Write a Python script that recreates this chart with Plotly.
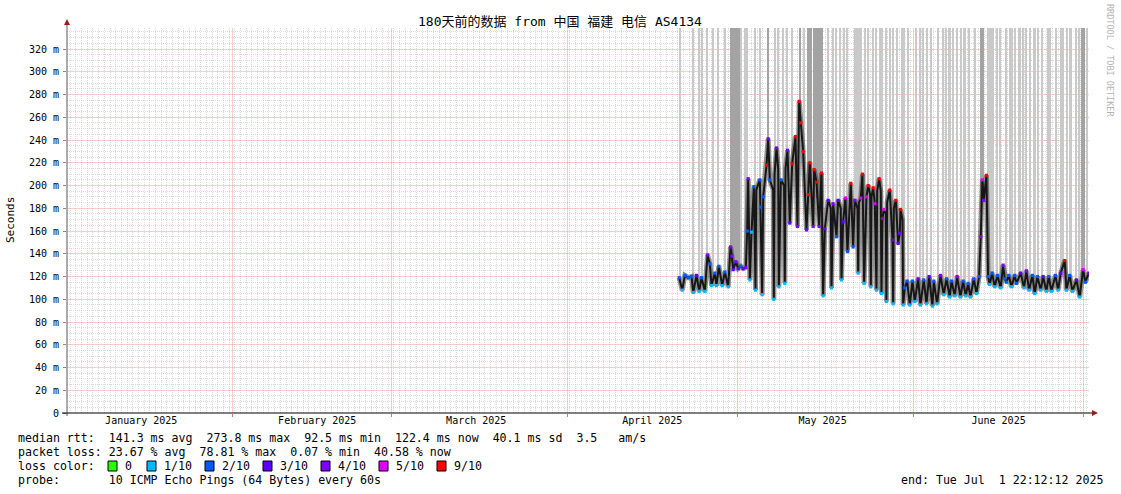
import numpy as np
import pandas as pd
import plotly.graph_objects as go

# ---------------- data ----------------
START = pd.Timestamp("2025-01-02 22:12:12")
END = pd.Timestamp("2025-07-01 22:12:12")
EPOCH = pd.Timestamp("2025-04-20 00:00:00")

month_label_dates = ["2025-01-16", "2025-02-16", "2025-03-16", "2025-04-16", "2025-05-16", "2025-06-16"]
month_labels = ["January 2025", "February 2025", "March 2025", "April 2025", "May 2025", "June 2025"]

# median RTT key points (days after 2025-04-20 00:00, ms, lost pings out of 10)
median_day = [0.75, 1.28, 1.75, 2.34, 2.92, 3.22, 3.80, 4.27, 4.68, 5.27,
              5.74, 6.15, 6.44, 7.03, 7.32, 7.73, 8.32, 8.79, 9.38, 9.79,
              10.02, 10.26, 10.73, 11.14, 11.61, 12.02, 12.49, 12.72, 12.90, 13.19,
              13.49, 13.90, 14.19, 14.95, 15.07, 15.36, 15.54, 16.13, 16.42, 16.71,
              17.42, 17.89, 18.30, 18.65, 19.35, 19.82, 20.23, 20.65, 21.23, 21.58,
              21.88, 22.17, 22.58, 23.17, 23.46, 23.75, 24.34, 24.52, 24.93, 25.40,
              25.81, 26.10, 26.40, 26.98, 27.57, 27.86, 28.45, 28.74, 29.33, 29.62,
              30.03, 30.39, 30.97, 31.38, 31.68, 32.27, 32.73, 33.03, 33.32, 33.73,
              34.03, 34.50, 34.91, 35.20, 35.49, 35.96, 36.37, 36.55, 36.78, 37.25,
              37.84, 38.31, 38.43, 38.90, 39.31, 39.60, 39.72, 40.19, 40.48, 40.89,
              41.36, 41.83, 42.24, 42.83, 43.24, 43.83, 44.30, 44.77, 45.35, 45.59,
              46.17, 46.76, 47.35, 47.82, 48.40, 48.70, 49.28, 49.69, 50.28, 50.75,
              51.22, 51.63, 52.04, 52.63, 53.10, 53.57, 53.86, 54.15, 54.39, 54.86,
              55.15, 55.44, 55.86, 56.33, 56.80, 57.38, 57.79, 58.09, 58.38, 58.79,
              59.26, 59.85, 60.14, 60.90, 61.49, 61.90, 62.37, 62.96, 63.37, 63.84,
              64.43, 64.84, 65.42, 65.83, 66.30, 67.01, 67.48, 67.95, 68.65, 68.94,
              69.53, 70.00, 70.70, 71.29, 71.88, 72.29, 72.88]
median_ms = [119, 108, 121, 119, 120, 106, 121, 107, 119, 107,
             139, 131, 112, 123, 112, 129, 112, 124, 111, 146,
             138, 126, 133, 127, 129, 127, 128, 160, 206, 117,
             159, 199, 108, 205, 181, 104, 190, 218, 241, 205,
             100, 233, 111, 205, 114, 231, 167, 219, 243, 164,
             274, 255, 230, 161, 192, 220, 164, 214, 203, 164,
             211, 103, 162, 187, 110, 184, 155, 187, 117, 168,
             189, 142, 202, 146, 187, 123, 189, 210, 114, 190,
             200, 111, 198, 184, 108, 206, 105, 171, 179, 98,
             196, 152, 96, 187, 149, 158, 179, 95, 110, 116,
             95, 116, 98, 118, 95, 117, 96, 120, 94, 116,
             96, 121, 104, 118, 102, 116, 103, 120, 102, 116,
             103, 114, 102, 118, 105, 120, 155, 205, 187, 209,
             120, 113, 123, 111, 121, 110, 130, 118, 115, 121,
             111, 121, 114, 123, 110, 125, 108, 121, 105, 120,
             108, 120, 107, 120, 107, 121, 108, 123, 134, 108,
             121, 107, 117, 102, 126, 115, 123]
median_loss = [2, 1, 2, 2, 2, 1, 3, 1, 2, 1,
               4, 2, 1, 2, 1, 2, 1, 2, 1, 4,
               4, 3, 4, 3, 2, 3, 4, 2, 4, 1,
               1, 2, 1, 2, 2, 1, 2, 9, 3, 2,
               1, 4, 1, 2, 1, 4, 3, 9, 9, 4,
               9, 9, 9, 4, 9, 9, 4, 9, 9, 4,
               9, 1, 3, 3, 1, 4, 2, 3, 1, 3,
               5, 2, 9, 2, 4, 1, 5, 9, 1, 5,
               9, 1, 9, 5, 1, 9, 1, 4, 5, 1,
               9, 3, 1, 9, 3, 4, 9, 1, 2, 2,
               1, 2, 1, 3, 1, 2, 1, 3, 1, 2,
               1, 4, 1, 2, 1, 2, 1, 4, 1, 2,
               1, 2, 1, 2, 1, 2, 4, 5, 4, 9,
               2, 1, 2, 1, 2, 1, 4, 2, 2, 2,
               1, 2, 2, 3, 1, 4, 1, 2, 1, 2,
               1, 3, 1, 2, 1, 2, 1, 3, 9, 1,
               2, 1, 3, 1, 5, 2, 4]

# extra plateau readings around the sharp nightly dips (no loss marker shown)
plateau_day = [14.32, 17.30, 17.55, 18.18, 19.22, 19.48, 27.45, 29.20, 32.15, 32.40,
               34.38, 34.62, 35.62, 36.25, 37.13, 37.37, 38.55, 40.07]
plateau_ms = [196, 196, 210, 215, 200, 215, 180, 180, 180, 185,
              192, 190, 195, 195, 175, 185, 180, 170]

# time of loss spikes (days after 2025-04-20 00:00), drawn as tall smoke bars
loss_spike_day = [0.87, 3.22, 4.27, 4.86, 5.74, 6.74, 7.62, 8.79, 11.73, 12.31,
                  12.72, 14.07, 14.95, 17.60, 18.18, 19.06, 19.82, 20.70, 22.70, 26.98,
                  27.86, 28.45, 29.04, 29.80, 30.39, 31.80, 32.15, 32.50, 32.85, 33.44,
                  34.03, 34.91, 35.38, 36.08, 36.55, 37.25, 37.84, 38.43, 39.19, 40.07,
                  40.42, 41.07, 42.42, 43.24, 43.71, 44.47, 45.18, 46.35, 47.23, 47.70,
                  48.40, 48.99, 49.75, 50.46, 51.04, 51.81, 52.81, 55.15, 55.62, 56.03,
                  56.74, 57.32, 58.38, 58.97, 59.44, 59.85, 60.73, 61.31, 61.90, 62.66,
                  63.37, 63.96, 64.72, 65.71, 66.13, 67.18, 68.06, 68.36, 69.06, 69.71,
                  70.70, 71.17, 72.64]
heavy_spike_day = [9.85, 10.14, 10.43, 10.73, 11.02, 11.26, 16.42, 21.99, 23.40, 23.70,
                   23.99, 24.52, 24.81, 25.10, 25.40, 25.69, 25.98, 53.98, 54.33, 71.76,
                   72.11]

y_tick_vals = [0, 20, 40, 60, 80, 100, 120, 140, 160, 180, 200, 220, 240, 260, 280, 300, 320]
y_tick_text = ["0", "20 m", "40 m", "60 m", "80 m", "100 m", "120 m", "140 m", "160 m",
               "180 m", "200 m", "220 m", "240 m", "260 m", "280 m", "300 m", "320 m"]

loss_labels = ["0", "1/10", "2/10", "3/10", "4/10", "5/10", "9/10"]
loss_colors = ["#26ff00", "#00b8ff", "#0059ff", "#5e00ff", "#7e00ff", "#dd00ff", "#ff0000"]
loss_levels = [0, 1, 2, 3, 4, 5, 9]

title_text = "180天前的数据 from 中国 福建 电信 AS4134"
stat_lines = [
    "median rtt:  141.3 ms avg  273.8 ms max  92.5 ms min  122.4 ms now  40.1 ms sd  3.5   am/s",
    "packet loss: 23.67 % avg  78.81 % max  0.07 % min  40.58 % now",
    "loss color:",
    "probe:       10 ICMP Echo Pings (64 Bytes) every 60s",
]
end_text = "end: Tue Jul  1 22:12:12 2025"

# ---------------- build ----------------
DAY_MS = 86400000
color_of = dict(zip(loss_levels, loss_colors))
med_colors = [color_of[c] for c in median_loss]
t_med = EPOCH + pd.to_timedelta(median_day, unit="D")

line_df = pd.DataFrame({"day": median_day + plateau_day,
                        "ms": median_ms + plateau_ms}).sort_values("day")
t_line = EPOCH + pd.to_timedelta(line_df["day"].to_numpy(), unit="D")
v_line = line_df["ms"].to_numpy()

YTOP = 338.5


def spike_trace(days, color):
    days = np.array(days)
    base = np.interp(days, line_df["day"].to_numpy(), v_line)
    t = EPOCH + pd.to_timedelta(days, unit="D")
    return go.Bar(x=t, y=YTOP + 5 - base, base=base, width=0.27 * DAY_MS,
                  marker=dict(color=color, line=dict(width=0)), hoverinfo="skip")


fig = go.Figure()
fig.add_trace(spike_trace(loss_spike_day, "#c9c9c9"))
fig.add_trace(spike_trace(heavy_spike_day, "#a3a3a3"))
fig.add_trace(go.Scatter(x=t_line, y=v_line, mode="lines",
                         line=dict(color="rgba(60,60,60,0.55)", width=5), hoverinfo="skip"))
fig.add_trace(go.Scatter(x=t_line, y=v_line, mode="lines",
                         line=dict(color="#161616", width=2), hoverinfo="skip"))
fig.add_trace(go.Scatter(x=t_med, y=median_ms, mode="markers",
                         marker=dict(symbol="square", size=3.2, color=med_colors, line=dict(width=0)),
                         hoverinfo="skip"))

PL, PR, PT, PB = 67, 1089, 28, 413


def px(x):
    return (x - PL) / (PR - PL)


def py(y):
    return (PB - y) / (PB - PT)


MONO = "DejaVu Sans Mono"
NB = "\u00a0"

annotations = []
annotations.append(dict(text=title_text, x=px(560), y=py(21), xref="paper", yref="paper",
                        showarrow=False, xanchor="center", yanchor="middle",
                        font=dict(family=MONO + ", Noto Sans CJK SC", size=13, color="#000")))
annotations.append(dict(text="Seconds", x=px(10), y=py(220), xref="paper", yref="paper",
                        showarrow=False, xanchor="center", yanchor="middle", textangle=-90,
                        font=dict(family=MONO, size=11, color="#000")))
annotations.append(dict(text="RRDTOOL / TOBI OETIKER", x=px(1110), y=py(60), xref="paper",
                        yref="paper", showarrow=False, xanchor="center", yanchor="middle",
                        textangle=90, font=dict(family=MONO, size=8.5, color="#b4b4b4")))
line_y = [438, 452, 466, 480]
for txt, yy in zip(stat_lines, line_y):
    annotations.append(dict(text=txt.replace(" ", NB), x=px(16), y=py(yy), xref="paper",
                            yref="paper", showarrow=False, xanchor="left", yanchor="middle",
                            font=dict(family=MONO, size=11.6, color="#000")))
annotations.append(dict(text=end_text.replace(" ", NB), x=px(1105), y=py(480), xref="paper",
                        yref="paper", showarrow=False, xanchor="right", yanchor="middle",
                        font=dict(family=MONO, size=11.6, color="#000")))

shapes = []
sq_x = [108, 147, 205, 263, 321, 379, 437]
for sx, lab, col in zip(sq_x, loss_labels, loss_colors):
    shapes.append(dict(type="rect", xref="paper", yref="paper", x0=px(sx), x1=px(sx + 9),
                       y0=py(471), y1=py(461), fillcolor=col, line=dict(color="#000", width=1)))
    annotations.append(dict(text=lab, x=px(sx + 15), y=py(466), xref="paper", yref="paper",
                            showarrow=False, xanchor="left", yanchor="middle",
                            font=dict(family=MONO, size=11.6, color="#000")))

# axes with arrows
shapes.append(dict(type="line", xref="paper", yref="paper", x0=px(67), x1=px(67),
                   y0=py(416), y1=py(24), line=dict(color="#5a5a5a", width=1)))
shapes.append(dict(type="line", xref="paper", yref="paper", x0=px(62), x1=px(1093),
                   y0=py(413), y1=py(413), line=dict(color="#000", width=1)))
shapes.append(dict(type="path", xref="paper", yref="paper",
                   path=f"M {px(64)} {py(25)} L {px(70)} {py(25)} L {px(67)} {py(19)} Z",
                   fillcolor="#9c1c1c", line=dict(width=0)))
shapes.append(dict(type="path", xref="paper", yref="paper",
                   path=f"M {px(1092)} {py(410)} L {px(1092)} {py(416)} L {px(1098)} {py(413)} Z",
                   fillcolor="#9c1c1c", line=dict(width=0)))

MAJOR = "rgba(240,120,120,0.38)"
MINOR = "rgba(200,200,200,0.65)"
y_minor_vals = [v for v in range(5, 340, 5) if v % 20 != 0]
fig.update_layout(
    width=1121, height=494,
    margin=dict(l=PL, r=1121 - PR, t=PT, b=494 - PB, pad=0),
    paper_bgcolor="#ffffff", plot_bgcolor="#ffffff",
    showlegend=False, barmode="overlay", bargap=0,
    font=dict(family=MONO, size=10, color="#000"),
    annotations=annotations, shapes=shapes,
    xaxis=dict(type="date", range=[START, END], tickmode="array",
               tickvals=pd.to_datetime(month_label_dates), ticktext=month_labels,
               showgrid=False, ticks="",
               minor=dict(dtick=DAY_MS, tick0="2025-01-01 12:00", showgrid=True,
                          gridcolor=MINOR, griddash="1px,1px", gridwidth=1),
               showline=False, zeroline=False, tickfont=dict(family=MONO, size=10, color="#000"),
               fixedrange=True),
    xaxis2=dict(type="date", range=[START, END], overlaying="x", matches="x", side="bottom",
                dtick="M1", tick0="2025-01-01", showticklabels=False,
                showgrid=True, gridcolor=MAJOR, gridwidth=1,
                ticks="outside", ticklen=3, tickcolor="rgba(235,100,100,0.9)",
                showline=False, zeroline=False, fixedrange=True),
    yaxis=dict(range=[0, YTOP], tickmode="array", tickvals=y_tick_vals, ticktext=y_tick_text,
               showgrid=True, gridcolor=MAJOR, gridwidth=1,
               minor=dict(tickmode="array", tickvals=y_minor_vals, showgrid=True,
                          gridcolor=MINOR, griddash="1px,1px", gridwidth=1),
               ticks="outside", ticklen=3, tickcolor="#888",
               showline=False, zeroline=False, ticklabelstandoff=2,
               tickfont=dict(family=MONO, size=10, color="#000"), fixedrange=True),
)
# invisible anchor trace so the overlaying month-grid axis is drawn
fig.add_trace(go.Scatter(x=[START, END], y=[0, 0], xaxis="x2", mode="lines",
                         line=dict(width=0), hoverinfo="skip", showlegend=False))

fig.write_html("out.html", config={"displayModeBar": False},
               post_script="document.body.style.margin='0px';document.body.style.overflow='hidden';")
